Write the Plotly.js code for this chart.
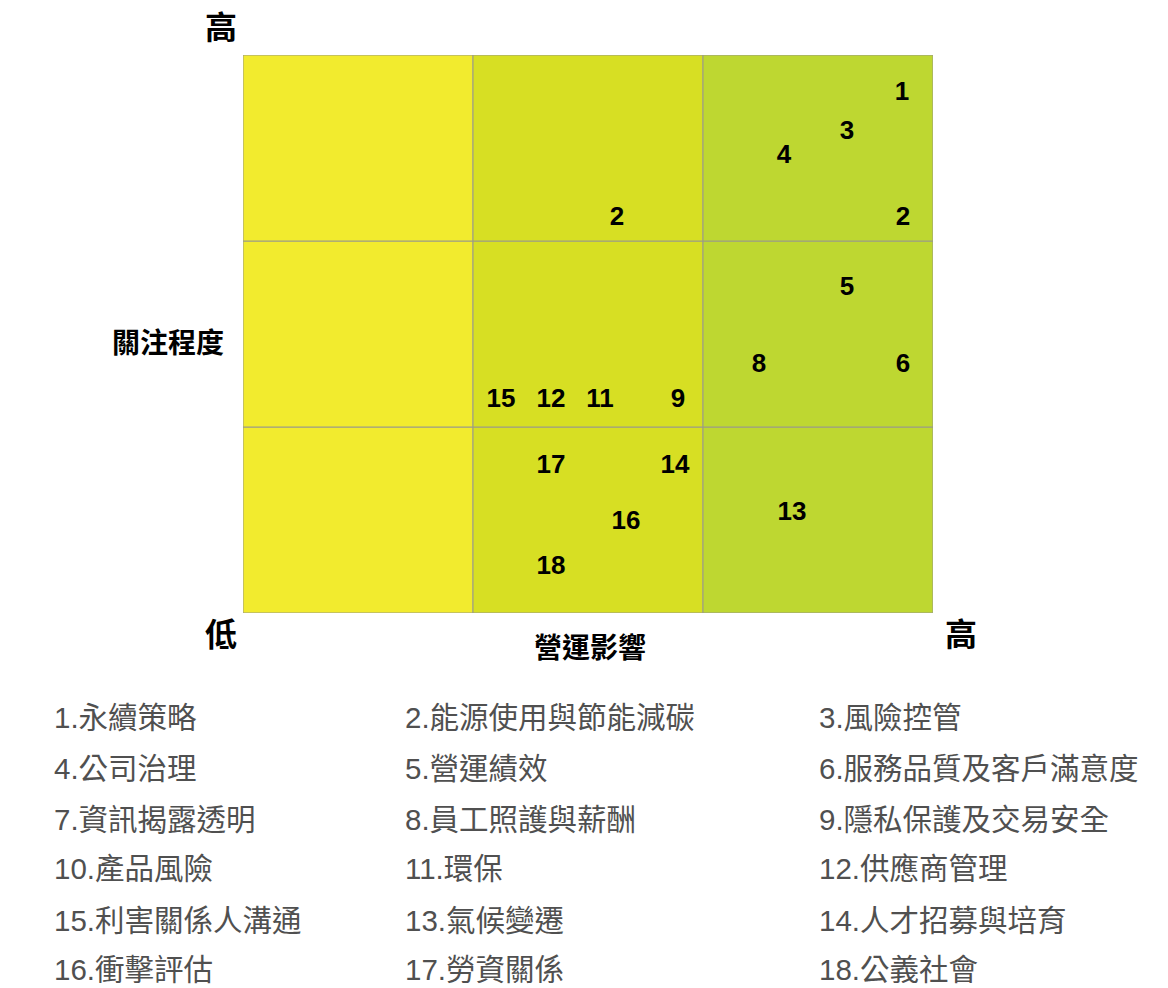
<!DOCTYPE html>
<html>
<head>
<meta charset="utf-8">
<script src="https://cdn.plot.ly/plotly-3.0.1.min.js"></script>
<style>html,body{margin:0;padding:0;background:#fff;}#chart{width:1168px;height:988px;}</style>
</head>
<body>
<div id="chart"></div>
<script>
// Data
const pointLabels = ['1','3','4','2','2','5','8','6','15','12','11','9','17','14','16','13','18'];
const impactX =     [2.865,2.626,2.352,2.870,1.626,2.626,2.243,2.870,1.122,1.339,1.552,1.891,1.339,1.878,1.665,2.387,1.339];
const concernY =    [2.795,2.586,2.457,2.123,2.123,1.747,1.333,1.333,1.140,1.140,1.140,1.140,0.790,0.790,0.489,0.537,0.242];
const columnColors = ['#F2EB2E','#D7DF23','#BED731'];
const legendCol1 = ['1.永續策略','4.公司治理','7.資訊揭露透明','10.產品風險','15.利害關係人溝通','16.衝擊評估'];
const legendCol2 = ['2.能源使用與節能減碳','5.營運績效','8.員工照護與薪酬','11.環保','13.氣候變遷','17.勞資關係'];
const legendCol3 = ['3.風險控管','6.服務品質及客戶滿意度','9.隱私保護及交易安全','12.供應商管理','14.人才招募與培育','18.公義社會'];
const xTitle = '營運影響';
const yTitle = '關注程度';
const lowLabel = '低';
const highLabel = '高';

// layout helpers (pixel -> paper)
const L = 243, R = 933, T = 55, B = 613;
const px = v => (v - L) / (R - L);
const py = v => (B - v) / (B - T);

const shapes = [];
for (let c = 0; c < 3; c++) {
  for (let r = 0; r < 3; r++) {
    shapes.push({type:'rect', xref:'x', yref:'y', x0:c, x1:c+1, y0:r, y1:r+1,
      fillcolor: columnColors[c], line:{color:'#9a9a8a', width:1}, layer:'below'});
  }
}

const cjk = '"Noto Sans CJK TC", "Noto Sans CJK SC", sans-serif';
const legFont = {family:'"Liberation Sans", "Noto Sans CJK TC", sans-serif', size:29.5, color:'#505050'};
const annotations = [];
const legX = [52, 403, 817];
const legY = [717, 768, 819, 869, 920, 970];
[legendCol1, legendCol2, legendCol3].forEach((col, ci) => {
  col.forEach((t, ri) => {
    annotations.push({xref:'paper', yref:'paper', x:px(legX[ci]), y:py(legY[ri]), text:t,
      showarrow:false, xanchor:'left', yanchor:'middle', font:legFont});
  });
});
const bigFont = {family:cjk, size:32, color:'#000'};
annotations.push({xref:'paper', yref:'paper', x:px(221), y:py(25), text:'<b>'+highLabel+'</b>', showarrow:false, xanchor:'center', yanchor:'middle', font:bigFont});
annotations.push({xref:'paper', yref:'paper', x:px(221), y:py(632), text:'<b>'+lowLabel+'</b>', showarrow:false, xanchor:'center', yanchor:'middle', font:bigFont});
annotations.push({xref:'paper', yref:'paper', x:px(961), y:py(632), text:'<b>'+highLabel+'</b>', showarrow:false, xanchor:'center', yanchor:'middle', font:bigFont});
annotations.push({xref:'paper', yref:'paper', x:px(590), y:py(646), text:'<b>'+xTitle+'</b>', showarrow:false, xanchor:'center', yanchor:'middle', font:{family:cjk, size:28, color:'#000'}});
annotations.push({xref:'paper', yref:'paper', x:px(168), y:py(341), text:'<b>'+yTitle+'</b>', showarrow:false, xanchor:'center', yanchor:'middle', font:{family:cjk, size:28, color:'#000'}});

const trace = {
  type:'scatter', mode:'text', x:impactX, y:concernY, text:pointLabels,
  textposition:'middle center', hoverinfo:'none',
  textfont:{family:'"Liberation Sans", Arial, sans-serif', size:26, color:'#000', weight:'bold'}
};

const layout = {
  width:1168, height:988,
  margin:{l:L, r:1168-R, t:T, b:988-B, pad:0},
  paper_bgcolor:'#fff', plot_bgcolor:'#fff',
  showlegend:false,
  xaxis:{range:[0,3], showgrid:false, zeroline:false, showticklabels:false, ticks:'', fixedrange:true, showline:false},
  yaxis:{range:[0,3], showgrid:false, zeroline:false, showticklabels:false, ticks:'', fixedrange:true, showline:false},
  shapes:shapes, annotations:annotations
};
Plotly.newPlot('chart', [trace], layout, {displayModeBar:false, staticPlot:true});
</script>
</body>
</html>
